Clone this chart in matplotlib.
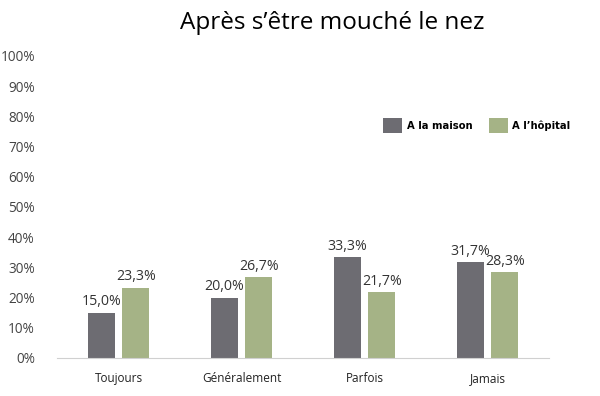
import numpy as np
import matplotlib.pyplot as plt

# data
categories = ['Toujours', 'Généralement', 'Parfois', 'Jamais']
maison = [15.0, 20.0, 33.3, 31.7]
hopital = [23.3, 26.7, 21.7, 28.3]
series_names = ['A la maison', 'A l\u2019hôpital']
yticks = [0, 10, 20, 30, 40, 50, 60, 70, 80, 90, 100]

dark = '#6d6c72'
green = '#a5b386'

plt.rcParams['font.family'] = ['Open Sans', 'DejaVu Sans']

fig = plt.figure(figsize=(6, 3.96), dpi=100)
ax = fig.add_axes([0.095, 0.096, 0.82, 0.763])

x = np.arange(len(categories))
w = 0.215
off = 0.14
b1 = ax.bar(x - off, maison, w, color=dark, label=series_names[0])
b2 = ax.bar(x + off, hopital, w, color=green, label=series_names[1])

for bars, vals in [(b1, maison), (b2, hopital)]:
    for r, v in zip(bars, vals):
        ax.text(r.get_x() + r.get_width() / 2, v + 1.2, f'{v:.1f}%'.replace('.', ','),
                ha='center', va='bottom', fontsize=10.2, color='#333333')

ax.set_xlim(-0.5, len(categories) - 0.5)
ax.set_ylim(0, 100)
ax.set_yticks(yticks)
ax.set_yticklabels([f'{t}%' for t in yticks], fontsize=9.8, color='#444444')
ax.set_xticks(x)
ax.set_xticklabels(categories, fontsize=8.5, color='#222222')
ax.tick_params(axis='both', length=0)
ax.tick_params(axis='x', pad=10)
ax.tick_params(axis='y', pad=16)
for s in ['top', 'right', 'left']:
    ax.spines[s].set_visible(False)
ax.spines['bottom'].set_color('#d0d0d0')

fig.text(0.553, 0.942, 'Après s\u2019être mouché le nez', ha='center', va='center', fontsize=17.5)

leg = ax.legend(loc='center left', bbox_to_anchor=(0.643, 0.77), ncol=2, frameon=False,
                handlelength=1.7, handleheight=1.7, columnspacing=1.5, handletextpad=0.4,
                prop={'family': 'DejaVu Sans', 'weight': 'bold', 'stretch': 'condensed', 'size': 8})

fig.savefig('out.png', dpi=100)
